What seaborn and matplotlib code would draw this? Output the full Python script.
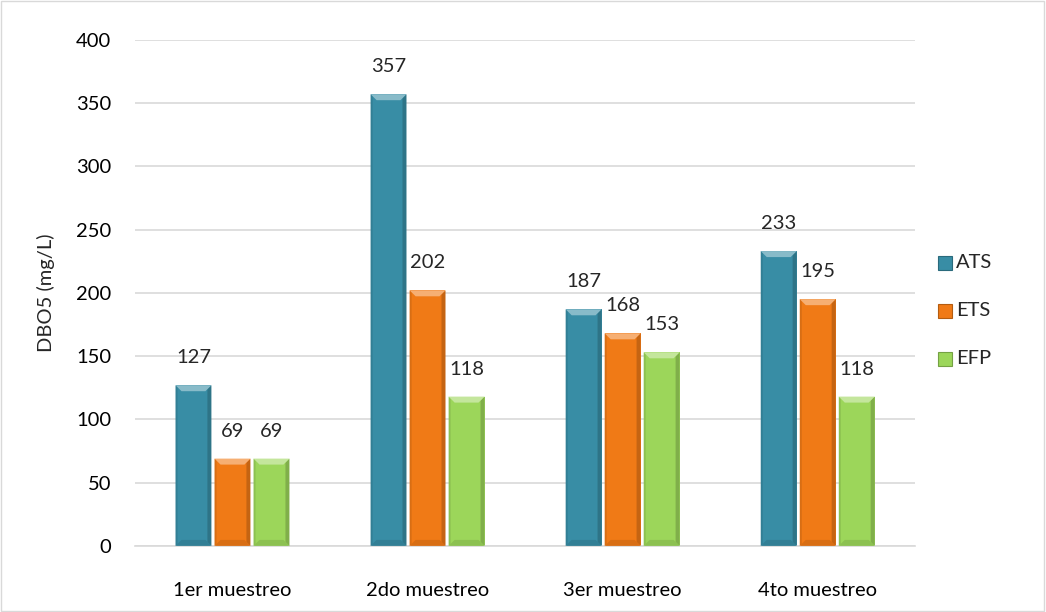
import numpy as np
import pandas as pd
import matplotlib
matplotlib.use("Agg")
import matplotlib.pyplot as plt
from matplotlib.patches import Polygon, Rectangle
import matplotlib.colors as mcolors
import seaborn as sns

muestreos = ["1er muestreo", "2do muestreo", "3er muestreo", "4to muestreo"]
series = ["ATS", "ETS", "EFP"]
ats = [127, 357, 187, 233]
ets = [69, 202, 168, 195]
efp = [69, 118, 153, 118]
colores = ["#388DA5", "#F07A16", "#9CD65A"]

df = pd.DataFrame({
    "muestreo": muestreos * 3,
    "serie": [s for s in series for _ in muestreos],
    "valor": ats + ets + efp,
})

sns.set_theme(style="white")
plt.rcParams["font.family"] = ["Lato", "DejaVu Sans"]
FS = 14.5

fig = plt.figure(figsize=(10.46, 6.12), dpi=100)
ax = fig.add_axes([0.129, 0.108, 0.746, 0.827])

sns.barplot(data=df, x="muestreo", y="valor", hue="serie", order=muestreos,
            hue_order=series, palette=colores, width=0.6, gap=0.08,
            ax=ax, legend=False, saturation=1, edgecolor="none")

ax.set_ylim(0, 400)
ax.set_xlim(-0.5, 3.5)
ax.set_yticks(range(0, 401, 50))
ax.yaxis.grid(True, color="#D9D9D9", linewidth=1.2)
ax.set_axisbelow(True)
for s in ["top", "right", "left"]:
    ax.spines[s].set_visible(False)
ax.spines["bottom"].set_color("#D9D9D9")
ax.spines["bottom"].set_linewidth(1.2)
ax.tick_params(axis="both", length=0, labelsize=FS, colors="black")
ax.tick_params(axis="x", pad=26)
ax.tick_params(axis="y", pad=17)
ax.set_xlabel("")
ax.set_ylabel("DBO5 (mg/L)", fontsize=FS, labelpad=15)

# bevel shading on each bar, plus value labels
fig.canvas.draw()
trans = ax.transData
inv = trans.inverted()
bevel_px = 6
for patch in ax.patches:
    x0, y0 = patch.get_x(), patch.get_y()
    w, h = patch.get_width(), patch.get_height()
    if h <= 0:
        continue
    base = mcolors.to_rgb(patch.get_facecolor())
    (px0, py0) = trans.transform((x0, y0))
    (px1, py1) = trans.transform((x0 + w, y0 + h))
    b = bevel_px

    def d(px, py):
        return inv.transform((px, py))

    light = tuple(min(1, c * 0.6 + 0.4) for c in base)
    dark = tuple(c * 0.82 for c in base)
    mid_dark = tuple(c * 0.9 for c in base)
    top = [d(px0, py1), d(px1, py1), d(px1 - b, py1 - b), d(px0 + b, py1 - b)]
    bottom = [d(px0, py0), d(px1, py0), d(px1 - b, py0 + b), d(px0 + b, py0 + b)]
    right = [d(px1, py0), d(px1, py1), d(px1 - 4, py1 - 4), d(px1 - 4, py0 + 4)]
    left = [d(px0, py0), d(px0, py1), d(px0 + 2, py1 - 2), d(px0 + 2, py0 + 2)]
    ax.add_patch(Polygon(right, closed=True, facecolor=dark, edgecolor="none", zorder=3))
    ax.add_patch(Polygon(left, closed=True, facecolor=mid_dark, edgecolor="none", zorder=3))
    ax.add_patch(Polygon(bottom, closed=True, facecolor=mid_dark, edgecolor="none", zorder=3))
    ax.add_patch(Polygon(top, closed=True, facecolor=light, edgecolor="none", zorder=3))
    ax.text(x0 + w / 2, h + 15, f"{h:.0f}", ha="center", va="bottom", fontsize=FS)

# legend
for i, (s, c) in enumerate(zip(series, colores)):
    yf = 1 - (263 + 48 * i) / 612
    fig.patches.append(Rectangle((938 / 1046, yf - 7 / 612), 14 / 1046, 14 / 612,
                                 transform=fig.transFigure, facecolor=c,
                                 edgecolor=tuple(v * 0.75 for v in mcolors.to_rgb(c)),
                                 linewidth=0.8, figure=fig))
    fig.text(956 / 1046, yf, s, fontsize=FS, va="center", ha="left")

# chart border
fig.patches.append(Rectangle((0.001, 0.002), 0.997, 0.996, transform=fig.transFigure,
                             facecolor="none", edgecolor="#D9D9D9", linewidth=1, figure=fig))

fig.savefig("out.png", dpi=100)
